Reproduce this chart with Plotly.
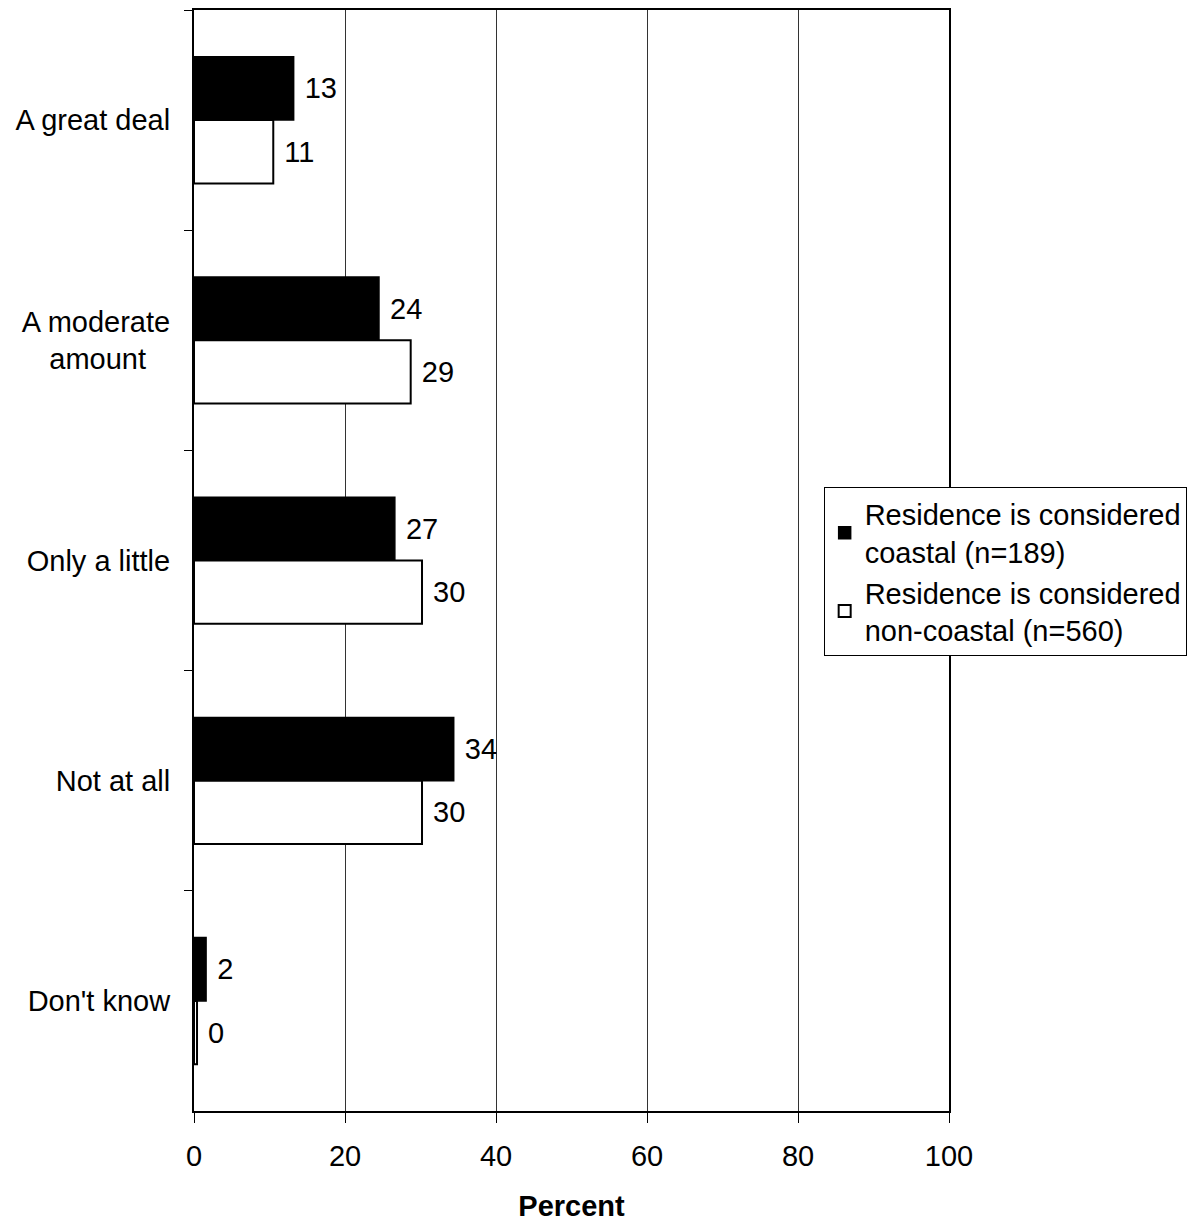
import plotly.graph_objects as go

categories = ["A great deal", "A moderate<br>amount\u00a0\u00a0\u00a0", "Only a little", "Not at all", "Don't know"]
coastal = [13.2, 24.5, 26.6, 34.4, 1.6]
coastal_labels = ["13", "24", "27", "34", "2"]
noncoastal = [10.5, 28.7, 30.2, 30.2, 0.4]
noncoastal_labels = ["11", "29", "30", "30", "0"]
series_names = ["Residence is considered<br>coastal (n=189)",
                "Residence is considered<br>non-coastal (n=560)"]
x_ticks = [0, 20, 40, 60, 80, 100]

FONT = "Liberation Sans, Arial, sans-serif"
FS = 29

fig = go.Figure()
fig.add_trace(go.Bar(
    y=categories, x=coastal, orientation="h", name=series_names[0],
    marker=dict(color="black", line=dict(color="black", width=1.5)),
    text=coastal_labels, texttemplate="\u00a0%{text}",
    textposition="outside", cliponaxis=False,
    textfont=dict(size=FS, color="black", family=FONT),
))
fig.add_trace(go.Bar(
    y=categories, x=noncoastal, orientation="h", name=series_names[1],
    marker=dict(color="white", line=dict(color="black", width=2)),
    text=noncoastal_labels, texttemplate="\u00a0%{text}",
    textposition="outside", cliponaxis=False,
    textfont=dict(size=FS, color="black", family=FONT),
))

fig.update_layout(
    width=1200, height=1220,
    margin=dict(l=186, r=259, t=2, b=117, autoexpand=False),
    paper_bgcolor="white", plot_bgcolor="white",
    font=dict(family=FONT, size=FS, color="black"),
    barmode="group", bargap=0.425, bargroupgap=0,
    showlegend=True,
    legend=dict(x=0.834, y=0.4896, xanchor="left", yanchor="middle",
                bordercolor="black", borderwidth=1, bgcolor="white",
                font=dict(size=FS, family=FONT), tracegroupgap=0,
                itemwidth=30),
)
fig.update_xaxes(
    range=[0, 100], tickvals=x_ticks, ticks="outside", ticklen=10,
    tickcolor="black", showgrid=True, gridcolor="#333333", gridwidth=1,
    showline=True, linecolor="black", linewidth=2, mirror=True,
    zeroline=False, automargin=False,
    title=dict(text="<b>Percent</b>", font=dict(size=FS, family=FONT), standoff=25),
    tickfont=dict(size=FS), ticklabelstandoff=8,
)
fig.update_yaxes(
    autorange="reversed", ticks="outside", ticklen=8, tickcolor="black",
    tickson="boundaries", showline=True, linecolor="black", linewidth=2,
    mirror=True, showgrid=False, tickfont=dict(size=FS), ticklabelstandoff=16,
    automargin=False,
)

fig.write_html("out.html")
